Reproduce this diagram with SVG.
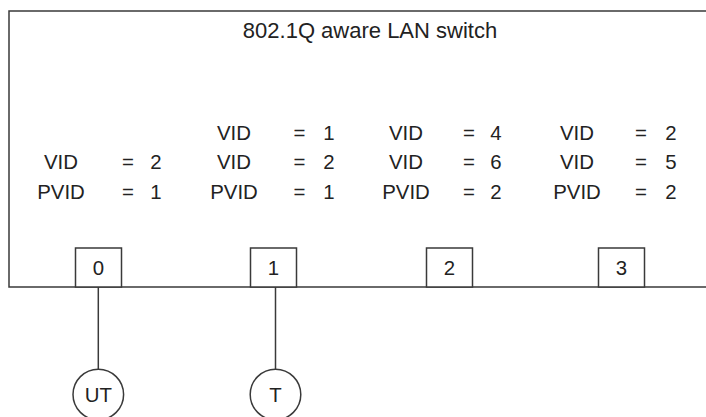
<svg xmlns="http://www.w3.org/2000/svg" width="706" height="417" viewBox="0 0 706 417">
<style>
  .ln { fill: none; stroke: #3a3a3a; stroke-width: 1.5; }
  .box { fill: #ffffff; stroke: #3a3a3a; stroke-width: 1.5; }
  text { font-family: "Liberation Sans", Arial, sans-serif; font-size: 20.4px; fill: #222222; text-anchor: middle; }
  .title { font-size: 22px; }
</style>
<rect width="706" height="417" fill="#ffffff"/>
<g id="switch">
  <path class="ln" d="M706,11 H9 V287 H706"/>
  <text class="title" x="370" y="37.5">802.1Q aware LAN switch</text>
</g>
<g id="config0">
  <text x="61" y="169">VID</text><text x="128" y="169">=</text><text x="156" y="169">2</text>
  <text x="61" y="199">PVID</text><text x="128" y="199">=</text><text x="156" y="199">1</text>
</g>
<g id="config1">
  <text x="234" y="140">VID</text><text x="299.5" y="140">=</text><text x="329" y="140">1</text>
  <text x="234" y="169">VID</text><text x="299.5" y="169">=</text><text x="329" y="169">2</text>
  <text x="234" y="199">PVID</text><text x="299.5" y="199">=</text><text x="329" y="199">1</text>
</g>
<g id="config2">
  <text x="406" y="140">VID</text><text x="469" y="140">=</text><text x="496" y="140">4</text>
  <text x="406" y="169">VID</text><text x="469" y="169">=</text><text x="496" y="169">6</text>
  <text x="406" y="199">PVID</text><text x="469" y="199">=</text><text x="496" y="199">2</text>
</g>
<g id="config3">
  <text x="577" y="140">VID</text><text x="641" y="140">=</text><text x="671" y="140">2</text>
  <text x="577" y="169">VID</text><text x="641" y="169">=</text><text x="671" y="169">5</text>
  <text x="577" y="199">PVID</text><text x="641" y="199">=</text><text x="671" y="199">2</text>
</g>
<g id="connectors">
  <line class="ln" x1="98.3" y1="287" x2="98.3" y2="369"/>
  <line class="ln" x1="275.5" y1="287" x2="275.5" y2="369"/>
</g>
<g id="port0">
  <rect class="box" x="75.5" y="248" width="46" height="39"/>
  <text x="98.5" y="275">0</text>
</g>
<g id="port1">
  <rect class="box" x="250.5" y="248" width="46" height="39"/>
  <text x="273.5" y="275">1</text>
</g>
<g id="port2">
  <rect class="box" x="426.5" y="248" width="46" height="39"/>
  <text x="449.5" y="275">2</text>
</g>
<g id="port3">
  <rect class="box" x="598.5" y="248" width="46" height="39"/>
  <text x="621.5" y="275">3</text>
</g>
<g id="UT">
  <circle class="box" cx="98.3" cy="394.5" r="25.3"/>
  <text x="98.3" y="402">UT</text>
</g>
<g id="T">
  <circle class="box" cx="275.5" cy="394.5" r="25.3"/>
  <text x="275.5" y="402">T</text>
</g>
</svg>
